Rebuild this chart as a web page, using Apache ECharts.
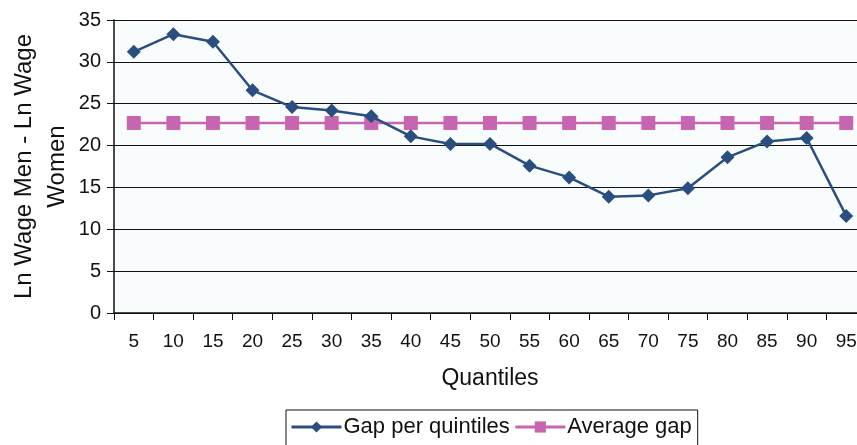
<!DOCTYPE html>
<html>
<head>
<meta charset="utf-8">
<script src="https://cdn.jsdelivr.net/npm/echarts@6/dist/echarts.min.js"></script>
<style>
  html, body { margin: 0; padding: 0; background: #ffffff; }
  #chart { width: 857px; height: 445px; }
</style>
</head>
<body>
<div id="chart"></div>
<script>
// Quantiles of the wage distribution
const quantiles = ['5','10','15','20','25','30','35','40','45','50','55','60','65','70','75','80','85','90','95'];
// Wage gap at each quantile
const gapPerQuantile = [31.2, 33.3, 32.4, 26.6, 24.6, 24.2, 23.5, 21.1, 20.2, 20.2, 17.6, 16.2, 13.9, 14.05, 14.9, 18.6, 20.5, 20.9, 11.6];
// Average gap, repeated at every quantile
const averageGap = [22.7, 22.7, 22.7, 22.7, 22.7, 22.7, 22.7, 22.7, 22.7, 22.7, 22.7, 22.7, 22.7, 22.7, 22.7, 22.7, 22.7, 22.7, 22.7];
const yTicks = { min: 0, max: 35, interval: 5 };

const font = 'Liberation Sans, Arial, Helvetica, sans-serif';
const ink = '#111111';
const chart = echarts.init(document.getElementById('chart'));
chart.setOption({
  animation: false,
  backgroundColor: '#ffffff',
  textStyle: { fontFamily: font },
  grid: {
    left: 114, right: -9, top: 20, bottom: 132,
    outerBoundsMode: 'none',
    containLabel: false,
    show: true, backgroundColor: '#f8fcfd', borderWidth: 0
  },
  xAxis: {
    type: 'category',
    data: quantiles,
    boundaryGap: true,
    name: 'Quantiles',
    nameLocation: 'middle',
    nameGap: 54,
    nameMoveOverlap: false,
    nameTextStyle: { fontSize: 23, color: ink, fontFamily: font },
    axisLine: { lineStyle: { color: ink, width: 1.5 } },
    axisTick: { show: true, length: 7, lineStyle: { color: ink } },
    axisLabel: { fontSize: 19, color: ink, margin: 19, fontFamily: font }
  },
  yAxis: {
    type: 'value',
    min: yTicks.min, max: yTicks.max, interval: yTicks.interval,
    name: 'Ln Wage Men - Ln Wage\nWomen',
    nameLocation: 'middle',
    nameGap: 40,
    nameMoveOverlap: false,
    nameRotate: 90,
    nameTextStyle: { fontSize: 24, color: ink, lineHeight: 33, fontFamily: font },
    axisLine: { show: true, lineStyle: { color: ink, width: 1.5 } },
    axisTick: { show: true, length: 7, lineStyle: { color: ink } },
    axisLabel: { fontSize: 20, color: ink, margin: 13, fontFamily: font },
    splitLine: { show: true, lineStyle: { color: ink, width: 1.2 } }
  },
  legend: {
    top: 410,
    left: 286,
    itemWidth: 50,
    itemHeight: 14,
    itemGap: 4,
    padding: [6, 6, 12, 4],
    borderColor: ink,
    borderWidth: 1,
    lineStyle: { width: 3 },
    textStyle: { fontSize: 22, color: ink, fontFamily: font, padding: [0, 0, 0, -3] },
    data: ['Gap per quintiles', 'Average gap']
  },
  series: [
    {
      name: 'Gap per quintiles',
      type: 'line',
      data: gapPerQuantile,
      symbol: 'diamond',
      symbolSize: 14,
      itemStyle: { color: '#2a4e80' },
      lineStyle: { color: '#2a4e80', width: 2.5 },
      z: 3
    },
    {
      name: 'Average gap',
      type: 'line',
      data: averageGap,
      symbol: 'rect',
      symbolSize: 14,
      itemStyle: { color: '#c865b0' },
      lineStyle: { color: '#c865b0', width: 2.5 },
      z: 2
    }
  ]
});
</script>
</body>
</html>
